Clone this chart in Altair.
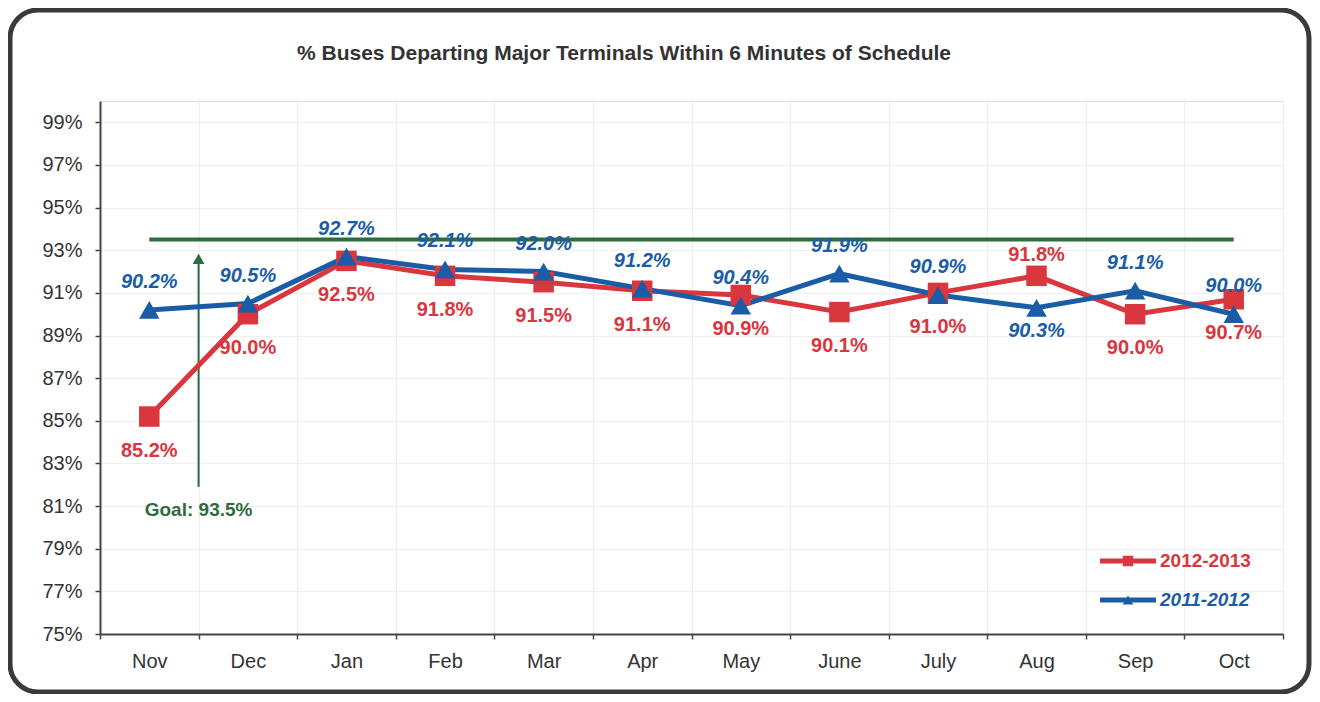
import altair as alt
import pandas as pd

# ---------------- data ----------------
TITLE = "% Buses Departing Major Terminals Within 6 Minutes of Schedule"
months = ["Nov", "Dec", "Jan", "Feb", "Mar", "Apr", "May", "June", "July", "Aug", "Sep", "Oct"]
series_names = ["2012-2013", "2011-2012"]
values_2012_2013 = [85.2, 90.0, 92.5, 91.8, 91.5, 91.1, 90.9, 90.1, 91.0, 91.8, 90.0, 90.7]
values_2011_2012 = [90.2, 90.5, 92.7, 92.1, 92.0, 91.2, 90.4, 91.9, 90.9, 90.3, 91.1, 90.0]
# which side of the marker each value label sits on
label_side_2012_2013 = ["below"] * 9 + ["above"] + ["below"] * 2
label_side_2011_2012 = ["above"] * 9 + ["below"] + ["above"] * 2
goal_value = 93.5
goal_label = "Goal: 93.5%"
arrow_from, arrow_to = 81.9, 92.6
goal_label_value = 80.8
y_ticks = list(range(75, 100, 2))

RED = "#D9363E"
BLUE = "#1A5DA6"
GREEN = "#2E6B3E"
FONT = "Liberation Sans"

rows = []
for name, vals, sides in [(series_names[0], values_2012_2013, label_side_2012_2013),
                          (series_names[1], values_2011_2012, label_side_2011_2012)]:
    for m, v, s in zip(months, vals, sides):
        rows.append({"month": m, "value": v, "series": name, "side": s,
                     "label": f"{v:.1f}%"})
df = pd.DataFrame(rows)
goal_df = pd.DataFrame({"month": months, "value": [goal_value] * len(months)})
arrow_df = pd.DataFrame({"month": [months[0]], "value": [arrow_from], "v2": [arrow_to],
                         "lv": [goal_label_value], "label": [goal_label]})
one = pd.DataFrame({"a": [0]})
legend_df = pd.DataFrame({"series": series_names})

W, H = 1183, 533

x_scale = alt.Scale(domain=months, type="band", paddingInner=0, paddingOuter=0)
y_scale = alt.Scale(domain=[75, 100], nice=False, zero=False)

x_axis = alt.Axis(title=None, labelAngle=0, tickBand="extent", grid=True,
                  gridColor="#efefef", domainColor="#444", domainWidth=2,
                  tickColor="#444", tickSize=5, tickWidth=1.5, labelFontSize=20,
                  labelColor="#333", labelFont=FONT, labelPadding=12)
y_axis = alt.Axis(title=None, values=y_ticks, labelExpr="datum.value + '%'",
                  grid=True, gridColor="#efefef", domainColor="#444", domainWidth=2,
                  tickColor="#444", tickSize=5, tickWidth=1.5, labelFontSize=20,
                  labelColor="#333", labelFont=FONT, labelPadding=13)


def X(band=0.5):
    return alt.X("month:N", scale=x_scale, bandPosition=band, axis=x_axis)


def Y(field="value"):
    return alt.Y(f"{field}:Q", scale=y_scale, axis=y_axis)


base = alt.Chart(df)

goal_line = alt.Chart(goal_df).mark_line(color=GREEN, strokeWidth=4).encode(
    x=X(), y=Y())

arrow_shaft = alt.Chart(arrow_df).mark_rule(color=GREEN, strokeWidth=2).encode(
    x=X(band=1), y=Y(), y2="v2:Q")
arrow_head = alt.Chart(arrow_df).mark_point(shape="triangle-up", filled=True, opacity=1,
                                            color=GREEN, size=140).encode(
    x=X(band=1), y=Y("v2"))
goal_text = alt.Chart(arrow_df).mark_text(color=GREEN, fontSize=19, font=FONT,
                                          fontWeight="bold", baseline="middle").encode(
    x=X(band=1), y=Y("lv"), text="label:N")

red_df = base.transform_filter(alt.datum.series == series_names[0])
blue_df = base.transform_filter(alt.datum.series == series_names[1])

red_line = red_df.mark_line(color=RED, strokeWidth=5).encode(x=X(), y=Y())
blue_line = blue_df.mark_line(color=BLUE, strokeWidth=5).encode(x=X(), y=Y())
red_pts = red_df.mark_point(shape="square", filled=True, opacity=1, color=RED,
                            size=420).encode(x=X(), y=Y())
blue_pts = blue_df.mark_point(shape="triangle-up", filled=True, opacity=1, color=BLUE,
                              size=420).encode(x=X(), y=Y())

lab_kw = dict(fontSize=20, font=FONT, fontWeight="bold", baseline="middle")
red_below = red_df.transform_filter(alt.datum.side == "below").mark_text(
    color=RED, dy=34, **lab_kw).encode(x=X(), y=Y(), text="label:N")
red_above = red_df.transform_filter(alt.datum.side == "above").mark_text(
    color=RED, dy=-21, **lab_kw).encode(x=X(), y=Y(), text="label:N")
blue_above = blue_df.transform_filter(alt.datum.side == "above").mark_text(
    color=BLUE, dy=-28, fontStyle="italic", **lab_kw).encode(x=X(), y=Y(), text="label:N")
blue_below = blue_df.transform_filter(alt.datum.side == "below").mark_text(
    color=BLUE, dy=23, fontStyle="italic", **lab_kw).encode(x=X(), y=Y(), text="label:N")

# legend (bottom right inside plot)
leg_layers = []
for name, col, shape, style, yy in [(series_names[0], RED, "square", "normal", 460),
                                    (series_names[1], BLUE, "triangle-up", "italic", 499)]:
    ld = alt.Chart(legend_df).transform_filter(alt.datum.series == name)
    leg_layers.append(ld.mark_rule(color=col, strokeWidth=5).encode(
        x=alt.value(1000), x2=alt.value(1056), y=alt.value(yy)))
    leg_layers.append(ld.mark_point(shape=shape, filled=True, opacity=1, color=col,
                                    size=110).encode(x=alt.value(1028), y=alt.value(yy)))
    leg_layers.append(ld.mark_text(color=col, fontSize=19, font=FONT, fontWeight="bold",
                                   fontStyle=style, align="left", baseline="middle").encode(
        x=alt.value(1060), y=alt.value(yy), text="series:N"))

title_text = alt.Chart(pd.DataFrame({"t": [TITLE]})).mark_text(
    fontSize=21, font=FONT, fontWeight="bold", color="#333", align="center",
    baseline="middle").encode(x=alt.value(524), y=alt.value(-47), text="t:N")

frame = alt.Chart(one).mark_rect(filled=False, stroke="#3a3a3a", strokeWidth=5,
                                 cornerRadius=28).encode(
    x=alt.value(-90), x2=alt.value(1209), y=alt.value(-91), y2=alt.value(591))

chart = alt.layer(
    goal_line, arrow_shaft, arrow_head, goal_text,
    red_line, blue_line, red_pts, blue_pts,
    red_below, red_above, blue_above, blue_below,
    *leg_layers, title_text, frame
).properties(
    width=W, height=H,
    autosize=alt.AutoSizeParams(type="none"),
    padding={"left": 92, "top": 93, "right": 29, "bottom": 60},
).configure_view(stroke="#555", strokeWidth=1.5).configure(background="white")

chart.save("out.html", embed_options={"renderer": "svg", "actions": False})
